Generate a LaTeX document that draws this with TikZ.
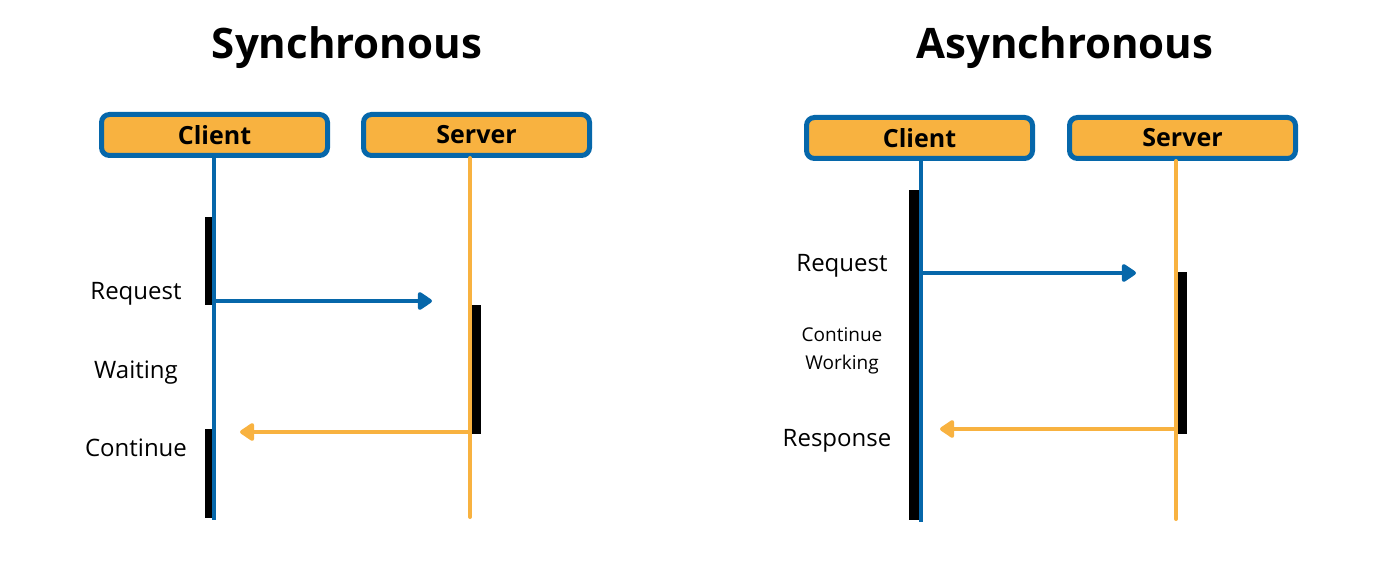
\documentclass[tikz,border=0pt]{standalone}
\usepackage{fontspec}
\setmainfont{Open Sans}
\usetikzlibrary{arrows.meta,positioning}
\definecolor{lineblue}{RGB}{6,103,170}
\definecolor{boxorange}{RGB}{248,178,64}
\tikzset{
  lifebox/.style={draw=lineblue,line width=5pt,fill=boxorange,rounded corners=8pt,
    minimum width=226pt,minimum height=41pt,inner sep=0pt,font=\fontsize{25}{30}\selectfont\bfseries},
  heading/.style={font=\fontsize{42}{50}\selectfont\bfseries},
  label/.style={font=\fontsize{24}{29}\selectfont,align=center},
  smalllabel/.style={font=\fontsize{19}{28}\selectfont,align=center},
  clientline/.style={draw=lineblue,line width=4pt},
  serverline/.style={draw=boxorange,line width=4pt},
  bar/.style={fill=black},
  reqarrow/.style={clientline,-{Triangle[length=16pt,width=20pt,round]}},
  resarrow/.style={serverline,-{Triangle[length=16pt,width=20pt,round]}}
}
\begin{document}
\begin{tikzpicture}[x=1pt,y=-1pt]
    \useasboundingbox (0,0) rectangle (1384,569);

    \node[heading] (synctitle) at (347,48) {Synchronous};
    \node[lifebox] (sclient) at (214.5,135) {Client};
    \node[lifebox] (sserver) at (476.5,135) {Server};
    \coordinate (sclientend) at (214,520);
    \coordinate (sserverend) at (470,517);

    \fill[bar] (205,217) rectangle (214,305);
    \fill[bar] (205,429) rectangle (214,518);
    \fill[bar] (471,305) rectangle (481,434);
    \draw[clientline] (sclient.south -| sclientend) -- (sclientend);
    \draw[serverline,line cap=round] (sserver.south -| sserverend) -- (sserverend);

    \coordinate (sreqfrom) at (214,301);
    \coordinate (sreqto) at (432,301);
    \coordinate (sresfrom) at (470,432);
    \coordinate (sresto) at (240,432);
    \draw[reqarrow] (sreqfrom) -- (sreqto);
    \draw[resarrow] (sresfrom) -- (sresto);

    \node[label] (sreq) at (136,294) {Request};
    \node[label] (swait) at (136,373) {Waiting};
    \node[label] (scont) at (136,448) {Continue};

    \node[heading] (asynctitle) at (1065,48) {Asynchronous};
    \node[lifebox] (aclient) at (919.5,138) {Client};
    \node[lifebox] (aserver) at (1182.5,138) {Server};
    \coordinate (aclientend) at (921,522);
    \coordinate (aserverend) at (1176,519);

    \fill[bar] (909,190) rectangle (919,520);
    \fill[bar] (1177,272) rectangle (1187,434);
    \draw[clientline] (aclient.south -| aclientend) -- (aclientend);
    \draw[serverline,line cap=round] (aserver.south -| aserverend) -- (aserverend);

    \coordinate (areqfrom) at (921,273);
    \coordinate (areqto) at (1136,273);
    \coordinate (aresfrom) at (1176,429);
    \coordinate (aresto) at (940,429);
    \draw[reqarrow] (areqfrom) -- (areqto);
    \draw[resarrow] (aresfrom) -- (aresto);

    \node[label] (areq) at (842,266) {Request};
    \node[smalllabel] (awork) at (842,351) {Continue\\Working};
    \node[label] (ares) at (837,441) {Response};
\end{tikzpicture}
\end{document}
